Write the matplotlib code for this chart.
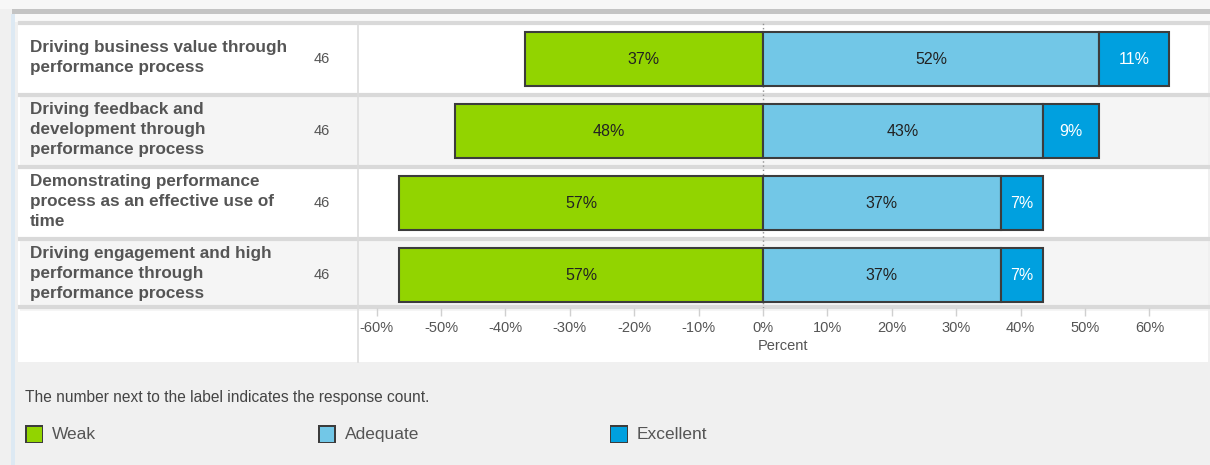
import matplotlib
matplotlib.use('Agg')
import matplotlib.pyplot as plt
import matplotlib.transforms as mtransforms
from matplotlib.patches import Rectangle
from matplotlib.lines import Line2D

# ---------------- data ----------------
categories = [
    "Driving business value through\nperformance process",
    "Driving feedback and\ndevelopment through\nperformance process",
    "Demonstrating performance\nprocess as an effective use of\ntime",
    "Driving engagement and high\nperformance through\nperformance process",
]
counts = [46, 46, 46, 46]
weak = [36.96, 47.83, 56.52, 56.52]
adequate = [52.17, 43.48, 36.96, 36.96]
excellent = [10.87, 8.70, 6.52, 6.52]
series_names = ["Weak", "Adequate", "Excellent"]
xticks = [-60, -50, -40, -30, -20, -10, 0, 10, 20, 30, 40, 50, 60]
xlabel = "Percent"
note = "The number next to the label indicates the response count."

# ---------------- style ----------------
W, H = 1210, 465
colors = ["#92d400", "#72c7e7", "#00a0df"]
edge = "#3c3c3c"
txt = "#555555"
plt.rcParams['font.family'] = ['Liberation Sans', 'DejaVu Sans']

fig = plt.figure(figsize=(W / 100, H / 100), dpi=100)
fig.patch.set_facecolor("#f0f0f0")


def fx(x):
    return x / W


def fy(y):
    return 1 - y / H


def frect(x0, y0, x1, y1, color, z=-5):
    fig.patches.append(Rectangle((fx(x0), fy(y1)), fx(x1) - fx(x0), fy(y0) - fy(y1),
                                 transform=fig.transFigure, facecolor=color,
                                 edgecolor='none', zorder=z))


def fline(x0, y0, x1, y1, color, lw, z=-3, ls='-'):
    fig.lines.append(Line2D([fx(x0), fx(x1)], [fy(y0), fy(y1)], transform=fig.transFigure,
                            color=color, lw=lw, zorder=z, linestyle=ls))


# frame decorations
frect(0, 0, W, 9, "#f7f7f7")
frect(12, 9, W, 14, "#c4c4c4")
frect(12, 14, W, 22, "#f9f9f9")
frect(11, 14, 15, H, "#dde9f3")
frect(18, 22, 1208, 362, "#ffffff")

# axes for the bars
ax_left, ax_right, ax_top, ax_bot = 358, 1208, 22, 308
ax = fig.add_axes([fx(ax_left), fy(ax_bot), fx(ax_right) - fx(ax_left), fy(ax_top) - fy(ax_bot)])
ax.patch.set_visible(False)
px_per_unit = 6.44
ax.set_xlim((ax_left - 763) / px_per_unit, (ax_right - 763) / px_per_unit)
ax.set_ylim(3.458, -0.514)

n = len(categories)
idx = list(range(n))

# row bands (alternating) in figure x / data y
blend = mtransforms.blended_transform_factory(fig.transFigure, ax.transData)
for i in idx:
    if i % 2 == 1:
        r = Rectangle((fx(20), i - 0.5), fx(1208) - fx(20), 1.0, transform=blend,
                      facecolor="#f5f5f5", edgecolor='none', zorder=-4)
        fig.patches.append(r)
for b in [-0.5, 0.5, 1.5, 2.5, 3.45]:
    fig.lines.append(Line2D([fx(20), fx(1208)], [b, b], transform=blend,
                            color="#d9d9d9", lw=3, zorder=-3))

# vertical divider
fline(358, 24, 358, 362, "#dcdcdc", 1.2)

bar_h = 0.75
neg_weak = [-w for w in weak]
ax.barh(idx, neg_weak, height=bar_h, color=colors[0], edgecolor=edge, lw=1.5, zorder=3)
ax.barh(idx, adequate, height=bar_h, color=colors[1], edgecolor=edge, lw=1.5, zorder=3)
ax.barh(idx, excellent, left=adequate, height=bar_h, color=colors[2], edgecolor=edge, lw=1.5, zorder=3)

ax.axvline(0, color="#909090", lw=1, linestyle=(0, (1, 2)), zorder=2)

for i in idx:
    ax.text(-weak[i] / 2, i, f"{int(weak[i] + 0.5)}%", ha='center', va='center',
            fontsize=11.5, color="#222222", zorder=5)
    ax.text(adequate[i] / 2, i, f"{int(adequate[i] + 0.5)}%", ha='center', va='center',
            fontsize=11.5, color="#222222", zorder=5)
    ax.text(adequate[i] + excellent[i] / 2, i, f"{int(excellent[i] + 0.5)}%", ha='center',
            va='center', fontsize=11.5, color="white", zorder=5)
    ax.text(fx(30), i - 0.02, categories[i], transform=blend, ha='left', va='center',
            fontsize=12.3, fontweight='bold', color=txt, linespacing=1.45)
    ax.text(fx(322), i, str(counts[i]), transform=blend, ha='center', va='center',
            fontsize=10.5, color=txt)

for s in ax.spines.values():
    s.set_visible(False)
ax.set_yticks([])
ax.set_xticks(xticks)
ax.set_xticklabels([f"{t}%" for t in xticks])
ax.tick_params(axis='x', direction='out', length=6, width=1, color="#d0d0d0",
               labelsize=10.5, labelcolor=txt, pad=3)
ax.set_xlabel(xlabel, fontsize=10.5, color=txt, labelpad=3)

# footer note + legend
fig.text(fx(25), fy(397), note, fontsize=11.2, color="#444444", ha='left', va='center')
leg_x = [25, 318, 610]
for name, c, x in zip(series_names, colors, leg_x):
    frect(x, 425, x + 18, 443, edge, z=1)
    frect(x + 1.5, 426.5, x + 16.5, 441.5, c, z=2)
    fig.text(fx(x + 27), fy(434), name, fontsize=12.5, color=txt, ha='left', va='center')

fig.savefig("out.png", dpi=100, facecolor=fig.get_facecolor())
